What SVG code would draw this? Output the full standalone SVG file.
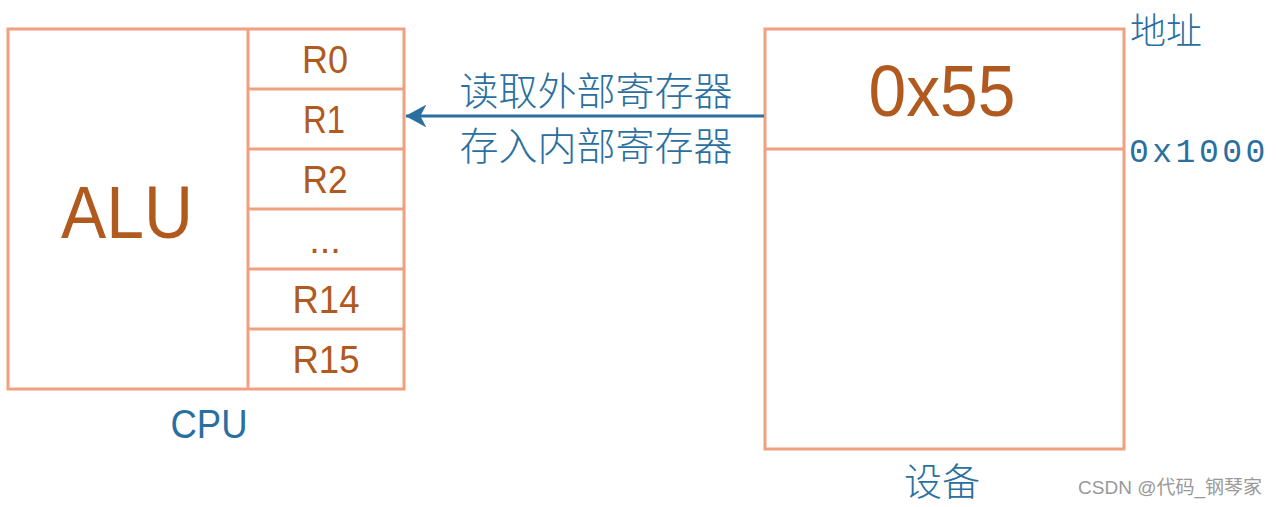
<svg xmlns="http://www.w3.org/2000/svg" width="1276" height="507" viewBox="0 0 1276 507">
<style>
.box{fill:none;stroke:#f0a080;stroke-width:3}
.reg{font-family:"Liberation Sans",Arial,sans-serif;font-size:38px;fill:#b05a20;text-anchor:middle}
.cn{font-family:"Noto Sans CJK SC",sans-serif;fill:#2a6fa0;font-weight:300}
.lbl{font-family:"Liberation Sans",Arial,sans-serif;fill:#2a6fa0}
</style>
<defs>
<marker id="ah" markerWidth="7" markerHeight="7.6" refX="6.8" refY="3.8" orient="auto" markerUnits="strokeWidth">
<path d="M0,0 L7,3.8 L0,7.6 L2,3.8 Z" fill="#2a6fa0"/>
</marker>
</defs>
<rect width="1276" height="507" fill="#fff"/>
<g id="cpu">
<rect class="box" x="8" y="29" width="396" height="360"/>
<line class="box" x1="248" y1="29" x2="248" y2="389"/>
<line class="box" x1="248" y1="89" x2="404" y2="89"/>
<line class="box" x1="248" y1="149" x2="404" y2="149"/>
<line class="box" x1="248" y1="209" x2="404" y2="209"/>
<line class="box" x1="248" y1="269" x2="404" y2="269"/>
<line class="box" x1="248" y1="329" x2="404" y2="329"/>
<text x="127" y="238" class="reg" style="font-size:75px" textLength="132" lengthAdjust="spacingAndGlyphs">ALU</text>
<text x="325" y="73" class="reg" textLength="46" lengthAdjust="spacingAndGlyphs">R0</text>
<text x="324" y="133" class="reg" textLength="42" lengthAdjust="spacingAndGlyphs">R1</text>
<text x="325" y="193" class="reg" textLength="45" lengthAdjust="spacingAndGlyphs">R2</text>
<text x="325" y="253" class="reg">...</text>
<text x="326" y="313" class="reg" textLength="67" lengthAdjust="spacingAndGlyphs">R14</text>
<text x="326" y="373" class="reg" textLength="67" lengthAdjust="spacingAndGlyphs">R15</text>
<text x="209" y="438" class="lbl" style="font-size:41px" text-anchor="middle" textLength="77" lengthAdjust="spacingAndGlyphs">CPU</text>
</g>
<g id="device">
<rect class="box" x="765" y="29" width="359" height="420"/>
<line class="box" x1="765" y1="149" x2="1124" y2="149"/>
<text x="942" y="116" class="reg" style="font-size:72px" textLength="147" lengthAdjust="spacingAndGlyphs">0x55</text>
<text x="1130" y="44" class="cn" style="font-size:36px">地址</text>
<text x="1129" y="162" style="font-family:'Liberation Mono',monospace;font-size:33px;fill:#2a6fa0;letter-spacing:3.5px">0x1000</text>
<text x="942" y="495" class="cn" style="font-size:38px" text-anchor="middle">设备</text>
</g>
<g id="connectors">
<line x1="764" y1="116" x2="406" y2="116" stroke="#2a6fa0" stroke-width="3" marker-end="url(#ah)"/>
<text x="596" y="105" class="cn" style="font-size:39px" text-anchor="middle">读取外部寄存器</text>
<text x="596" y="160" class="cn" style="font-size:39px" text-anchor="middle">存入内部寄存器</text>
</g>
<text x="1262" y="494" style="font-family:'Liberation Sans','Noto Sans CJK SC',sans-serif;font-size:19px;fill:#999" text-anchor="end">CSDN @代码_钢琴家</text>
</svg>
